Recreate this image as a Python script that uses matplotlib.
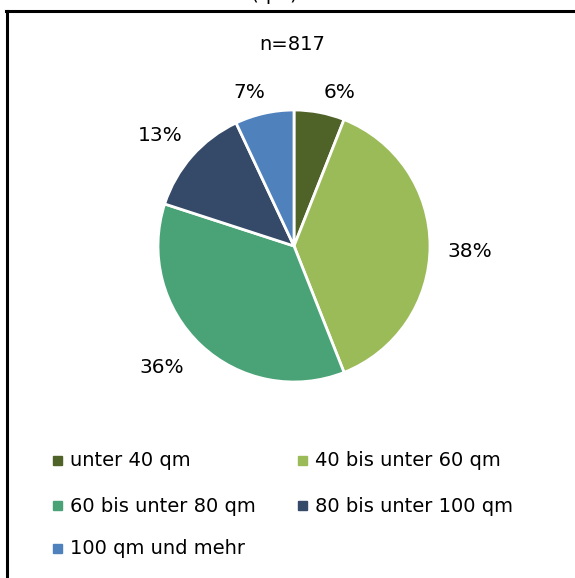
import matplotlib
matplotlib.use("Agg")
import matplotlib.pyplot as plt
from matplotlib.lines import Line2D
from matplotlib.patches import Rectangle

plt.rcParams['font.family'] = ['DejaVu Sans']

categories = ["unter 40 qm", "40 bis unter 60 qm", "60 bis unter 80 qm",
              "80 bis unter 100 qm", "100 qm und mehr"]
shares = [6, 38, 36, 13, 7]
colors = ["#4F6228", "#9BBB59", "#4AA377", "#354A69", "#4F81BD"]
sample_note = "n=817"
title = "Wohnfläche (qm)"

W, H = 575, 578
fig = plt.figure(figsize=(W / 100, H / 100), dpi=100)

def fx(px):
    return px / W

def fy(py):
    return 1 - py / H

# outer frame (left and top edges)
fig.add_artist(Line2D([fx(7), fx(7)], [fy(11), fy(580)], color="black", lw=2.2))
fig.add_artist(Line2D([fx(6), fx(580)], [fy(11), fy(11)], color="black", lw=2.2))

fig.text(fx(214), fy(0.5), title, ha="center", va="baseline", fontsize=14)
fig.text(fx(292), fy(44), sample_note, ha="center", va="center", fontsize=14)

# pie area
cx, cy, r = 294, 246, 136
ax = fig.add_axes([fx(cx - r), fy(cy + r), 2 * r / W, 2 * r / H])
ax.pie(shares, colors=colors, startangle=90, counterclock=False,
       wedgeprops=dict(edgecolor="white", linewidth=2))
ax.set_xlim(-1, 1)
ax.set_ylim(-1, 1)
ax.axis("off")

label_pos = [(0.338, 1.132), (1.294, -0.044), (-0.971, -0.897),
             (-0.985, 0.809), (-0.331, 1.132)]
for v, (lx, ly) in zip(shares, label_pos):
    ax.text(lx, ly, f"{v}%", ha="center", va="center", fontsize=14.5,
            clip_on=False)

# legend
rows = [461, 506, 549]
entries = [(57, rows[0]), (302, rows[0]), (57, rows[1]), (302, rows[1]), (57, rows[2])]
for (lx, ly), name, c in zip(entries, categories, colors):
    fig.add_artist(Rectangle((fx(lx - 4), fy(ly + 4)), 9 / W, 9 / H,
                             transform=fig.transFigure, color=c))
    fig.text(fx(lx + 13), fy(ly), name, ha="left", va="center", fontsize=14)

fig.savefig("out.png", dpi=100)
